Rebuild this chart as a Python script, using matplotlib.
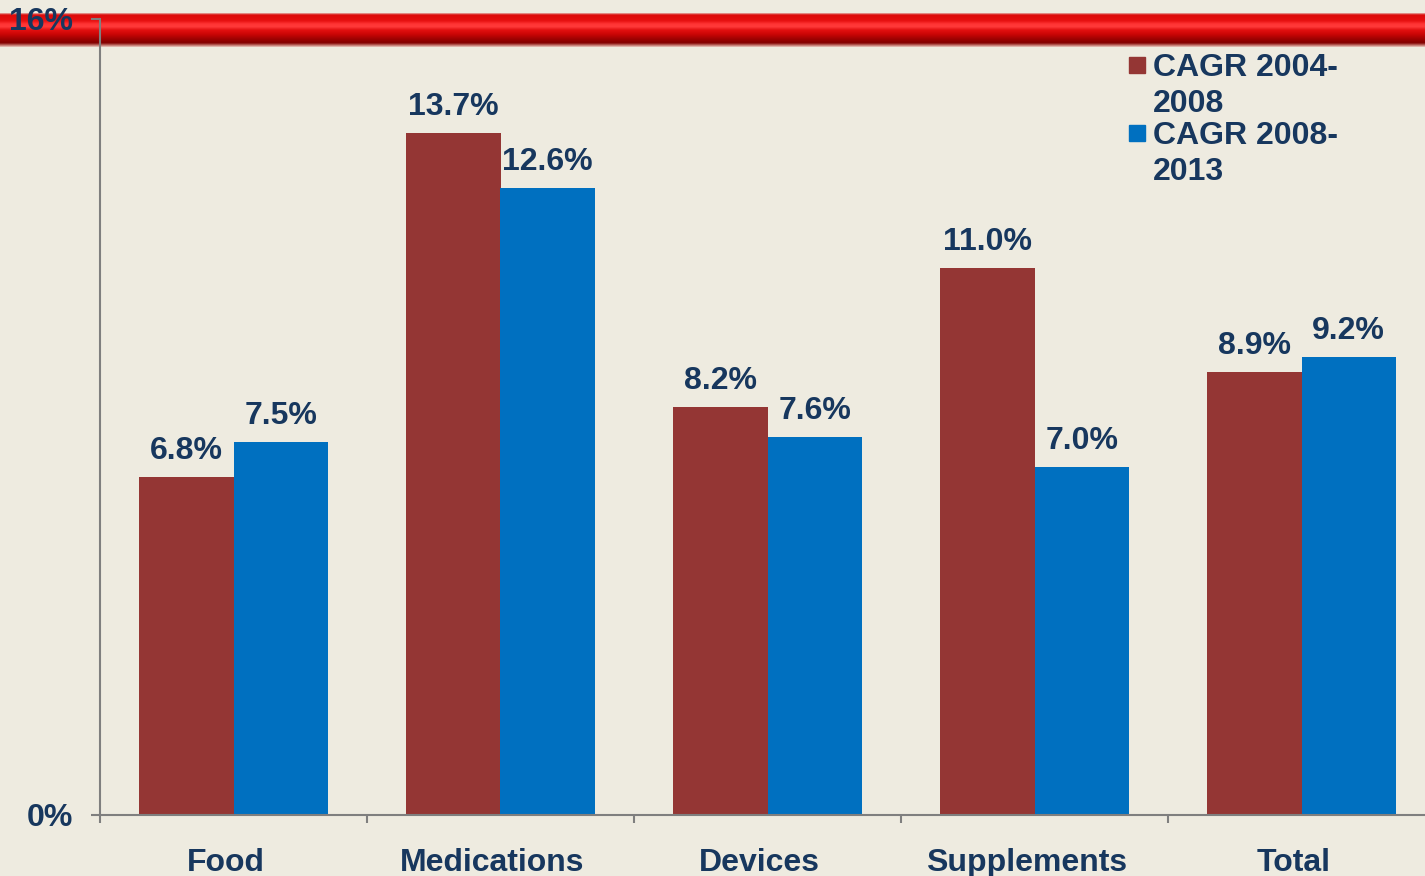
import numpy as np
import matplotlib
matplotlib.use("Agg")
import matplotlib.pyplot as plt
from matplotlib.colors import LinearSegmentedColormap
from matplotlib.patches import Rectangle
from matplotlib.transforms import ScaledTranslation

categories = ["Food", "Medications", "Devices", "Supplements", "Total"]
cagr_2004_2008 = [6.8, 13.7, 8.2, 11.0, 8.9]
cagr_2008_2013 = [7.5, 12.6, 7.6, 7.0, 9.2]
series_names = ["CAGR 2004-\n2008", "CAGR 2008-\n2013"]
y_ticks = [0, 16]
y_tick_labels = ["0%", "16%"]

BG = "#EEEBE0"
RED = "#943634"
BLUE = "#0070C0"
TEXT = "#17375E"
AXIS = "#7F7F7F"
FS = 23

plt.rcParams["font.family"] = ["Liberation Sans", "DejaVu Sans"]
plt.rcParams["font.weight"] = "bold"

W, H = 1425, 876
fig = plt.figure(figsize=(W / 100, H / 100), dpi=100, facecolor=BG)


def fx(px):
    return px / W


def fy(py):
    return 1 - py / H


# decorative glossy red band across the top
band = fig.add_axes([0, fy(47), 1, 34 / H], zorder=0)
band_cmap = LinearSegmentedColormap.from_list(
    "band",
    [(0.0, "#E4B0A8"), (0.05, "#DC0A0A"), (0.22, "#E61010"), (0.32, "#FF3434"),
     (0.40, "#FF3A3A"), (0.50, "#E21010"), (0.62, "#CC0606"), (0.76, "#A00202"),
     (0.88, "#820000"), (0.95, "#C07068"), (1.0, "#E8C8C0")])
band.imshow(np.linspace(0, 1, 200).reshape(-1, 1), aspect="auto", cmap=band_cmap,
            extent=[0, 1, 0, 1], interpolation="bilinear")
band.set_axis_off()

ax = fig.add_axes([fx(100), fy(815), fx(1435) - fx(100), fy(19) - fy(815)], zorder=2)
ax.set_facecolor("none")

x = np.arange(len(categories))
w = 0.353
b1 = ax.bar(x - w / 2, cagr_2004_2008, w, color=RED, zorder=2)
b2 = ax.bar(x + w / 2, cagr_2008_2013, w, color=BLUE, zorder=2)

for bars, vals in ((b1, cagr_2004_2008), (b2, cagr_2008_2013)):
    for rect, v in zip(bars, vals):
        ax.annotate(f"{v:.1f}%", (rect.get_x() + rect.get_width() / 2, v),
                    xytext=(0, 13), textcoords="offset points",
                    ha="center", va="baseline", fontsize=FS, fontweight="bold",
                    color=TEXT)

ax.set_xlim(-0.5, len(categories) - 0.5)
ax.set_ylim(0, 16)
ax.set_yticks(y_ticks)
ax.set_yticklabels(y_tick_labels)
ax.set_xticks(x)
ax.set_xticklabels(categories)
ax.set_xticks(np.arange(len(categories) + 1) - 0.5, minor=True)
ax.tick_params(axis="x", which="major", length=0, pad=24, labelsize=FS,
               labelcolor=TEXT)
ax.tick_params(axis="x", which="minor", length=5.5, width=1.5, color=AXIS,
               direction="out")
ax.tick_params(axis="y", length=6.5, width=1.5, color=AXIS, direction="out",
               pad=13, labelsize=FS, labelcolor=TEXT)
shift = ScaledTranslation(-8 / 100, 0, fig.dpi_scale_trans)
for lab in ax.get_xticklabels():
    lab.set_fontweight("bold")
    lab.set_transform(lab.get_transform() + shift)
for lab in ax.get_yticklabels():
    lab.set_fontweight("bold")

for s in ("top", "right"):
    ax.spines[s].set_visible(False)
for s in ("left", "bottom"):
    ax.spines[s].set_color(AXIS)
    ax.spines[s].set_linewidth(1.5)

# legend: colour squares with two-line labels
legend_colors = [RED, BLUE]
square_tops = [57, 125]
first_baselines = [76, 144]
for name, col, sq_top, base in zip(series_names, legend_colors, square_tops,
                                   first_baselines):
    fig.add_artist(Rectangle((fx(1129), fy(sq_top + 16)), 16 / W, 16 / H,
                             transform=fig.transFigure, color=col, zorder=3))
    for i, line in enumerate(name.split("\n")):
        fig.text(fx(1153), fy(base + 36 * i), line, fontsize=FS,
                 fontweight="bold", color=TEXT, ha="left", va="baseline",
                 zorder=3)

fig.savefig("out.png", dpi=100, facecolor=BG)
